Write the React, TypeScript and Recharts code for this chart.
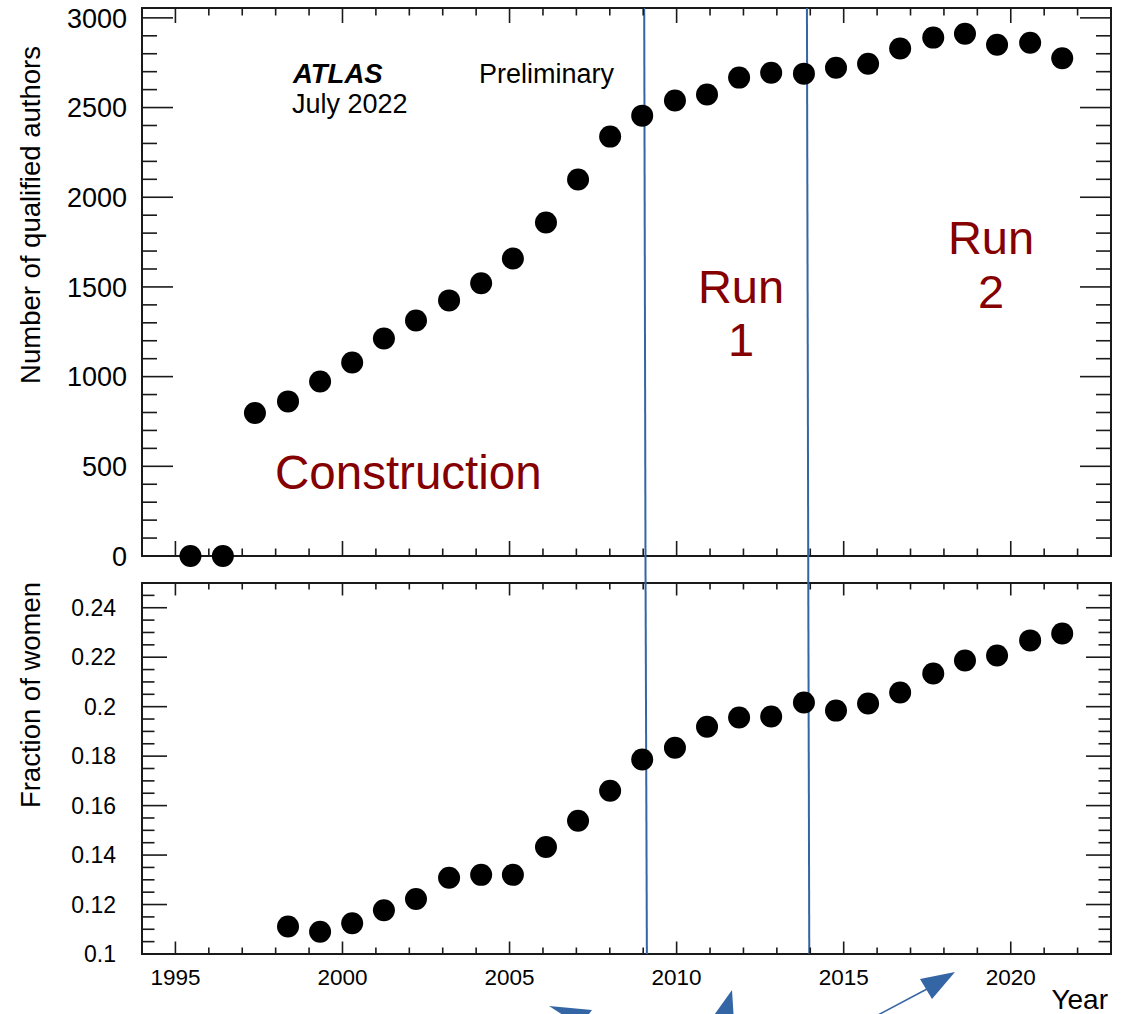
import { ScatterChart, Scatter, XAxis, YAxis, ReferenceLine, ReferenceArea } from "recharts";

// ATLAS qualified authors
const years = [
  1995.45, 1996.42, 1997.38, 1998.37, 1999.33, 2000.29, 2001.24, 2002.2, 2003.19, 2004.15,
  2005.1, 2006.09, 2007.05, 2008.01, 2008.97, 2009.95, 2010.91, 2011.87, 2012.83, 2013.81,
  2014.77, 2015.73, 2016.69, 2017.68, 2018.63, 2019.59, 2020.58, 2021.54,
];
const authors = [
  0, 0, 797, 862, 973, 1079, 1213, 1313, 1425, 1520,
  1658, 1859, 2099, 2338, 2455, 2539, 2573, 2667, 2694, 2689,
  2722, 2744, 2829, 2890, 2911, 2850, 2861, 2775,
];
const womenYears = [
  1998.37, 1999.33, 2000.29, 2001.24, 2002.2, 2003.19, 2004.15, 2005.1, 2006.09, 2007.05,
  2008.01, 2008.97, 2009.95, 2010.91, 2011.87, 2012.83, 2013.81, 2014.77, 2015.73, 2016.69,
  2017.68, 2018.63, 2019.59, 2020.58, 2021.54,
];
const womenFraction = [
  0.1111, 0.109, 0.1124, 0.1177, 0.1222, 0.1308, 0.132, 0.132, 0.1433, 0.1539,
  0.166, 0.1786, 0.1834, 0.1919, 0.1956, 0.196, 0.2017, 0.1984, 0.2013, 0.2057,
  0.2134, 0.2187, 0.2207, 0.2268, 0.2296,
];

const yearTicks = [
  1994, 1995, 1996, 1997, 1998, 1999, 2000, 2001, 2002, 2003, 2004, 2005, 2006, 2007, 2008,
  2009, 2010, 2011, 2012, 2013, 2014, 2015, 2016, 2017, 2018, 2019, 2020, 2021, 2022, 2023,
];
const authorTicks = [
  0, 100, 200, 300, 400, 500, 600, 700, 800, 900, 1000, 1100, 1200, 1300, 1400, 1500,
  1600, 1700, 1800, 1900, 2000, 2100, 2200, 2300, 2400, 2500, 2600, 2700, 2800, 2900, 3000,
];
const fractionTicks = [
  0.1, 0.105, 0.11, 0.115, 0.12, 0.125, 0.13, 0.135, 0.14, 0.145, 0.15, 0.155, 0.16, 0.165,
  0.17, 0.175, 0.18, 0.185, 0.19, 0.195, 0.2, 0.205, 0.21, 0.215, 0.22, 0.225, 0.23, 0.235,
  0.24, 0.245, 0.25,
];

// run boundaries (slightly tilted in the original: top, middle, bottom)
const run1 = [2009.03, 2009.07, 2009.11];
const run2 = [2013.9, 2013.94, 2013.97];

const topData = years.map((y, i) => ({ year: y, value: authors[i] }));
const bottomData = womenYears.map((y, i) => ({ year: y, value: womenFraction[i] }));

const FONT = "'Liberation Sans', Arial, Helvetica, sans-serif";
const INK = "#1a1a1a";
const RED = "#850000";
const BLUE = "#3465a4";

const W = 1125;
const LEFT = 142;
const RIGHT = 14;
const PLOT_W = W - LEFT - RIGHT;

// axes are 1px wide/high (0 would stop them from drawing), margins take that pixel back
const H1 = 578;
const M1 = { top: 8, right: RIGHT, bottom: 21, left: LEFT - 1 };
const PLOT_H1 = H1 - 8 - 22;

const H2 = 436;
const M2 = { top: 5, right: RIGHT, bottom: 59, left: LEFT - 1 };
const PLOT_H2 = H2 - 5 - 60;

const dot = (p: any) => <circle cx={p.cx} cy={p.cy} r={11} fill="#000" />;

const xTick = (plotH: number, majorLen: number, minorLen: number, labels: boolean) => (props: any) => {
  const { x, y, payload } = props;
  const major = payload.value % 5 === 0;
  const len = major ? majorLen : minorLen;
  return (
    <g>
      <line x1={x} y1={y} x2={x} y2={y - len} stroke={INK} strokeWidth={1.6} />
      <line x1={x} y1={y - plotH} x2={x} y2={y - plotH + len} stroke={INK} strokeWidth={1.6} />
      {labels && major && payload.value > 1994 && payload.value < 2023 && (
        <text x={x} y={y + 31} textAnchor="middle" fontSize={22.5} fontFamily={FONT} fill="#000">
          {payload.value}
        </text>
      )}
    </g>
  );
};

const yTick = (
  isMajor: (v: number) => boolean,
  fmt: (v: number) => string,
  majorLen: number,
  minorLen: number,
  fontSize: number,
  labelGap: number,
) => (props: any) => {
  const { x, y, payload } = props;
  const v = payload.value;
  const major = isMajor(v);
  const len = major ? majorLen : minorLen;
  return (
    <g>
      <line x1={x} y1={y} x2={x + len} y2={y} stroke={INK} strokeWidth={1.6} />
      <line x1={x + PLOT_W} y1={y} x2={x + PLOT_W - len} y2={y} stroke={INK} strokeWidth={1.6} />
      {major && (
        <text x={x - labelGap} y={y + fontSize * 0.36} textAnchor="end" fontSize={fontSize} fontFamily={FONT} fill="#000">
          {fmt(v)}
        </text>
      )}
    </g>
  );
};

function App() {
  return (
    <div style={{ position: "absolute", left: 0, top: 0, width: W, height: 1014, background: "#fff", fontFamily: FONT }}>
      <div style={{ position: "absolute", left: 0, top: 0 }}>
        <ScatterChart width={W} height={H1} margin={M1}>
          <XAxis
            dataKey="year"
            type="number"
            domain={[1994, 2023]}
            ticks={yearTicks}
            interval={0}
            height={1}
            tickSize={0}
            tickMargin={0}
            tickLine={false}
            axisLine={false}
            tick={xTick(PLOT_H1, 15, 7.5, false)}
          />
          <YAxis
            dataKey="value"
            type="number"
            domain={[0, 3055]}
            ticks={authorTicks}
            interval={0}
            width={1}
            tickSize={0}
            tickMargin={0}
            tickLine={false}
            axisLine={false}
            tick={yTick((v) => v % 500 === 0, (v) => String(v), 31, 15, 27, 15)}
          />
          <ReferenceArea x1={1994} x2={2023} y1={0} y2={3055} fill="none" stroke={INK} strokeWidth={2} />
          <ReferenceLine
            segment={[{ x: run1[0], y: 3055 }, { x: run1[1], y: -125 }]}
            stroke={BLUE}
            strokeWidth={2}
            ifOverflow="visible"
          />
          <ReferenceLine
            segment={[{ x: run2[0], y: 3055 }, { x: run2[1], y: -125 }]}
            stroke={BLUE}
            strokeWidth={2}
            ifOverflow="visible"
          />
          <Scatter data={topData} shape={dot} isAnimationActive={false} />
        </ScatterChart>
      </div>
      <div style={{ position: "absolute", left: 0, top: H1 }}>
        <ScatterChart width={W} height={H2} margin={M2}>
          <XAxis
            dataKey="year"
            type="number"
            domain={[1994, 2023]}
            ticks={yearTicks}
            interval={0}
            height={1}
            tickSize={0}
            tickMargin={0}
            tickLine={false}
            axisLine={false}
            tick={xTick(PLOT_H2, 12.5, 6.5, true)}
          />
          <YAxis
            dataKey="value"
            type="number"
            domain={[0.1, 0.25]}
            ticks={fractionTicks}
            interval={0}
            width={1}
            tickSize={0}
            tickMargin={0}
            tickLine={false}
            axisLine={false}
            tick={yTick(
              (v) => Math.abs(v * 50 - Math.round(v * 50)) < 1e-6,
              (v) => String(Number(v.toFixed(2))),
              25,
              12.5,
              23,
              26,
            )}
          />
          <ReferenceArea x1={1994} x2={2023} y1={0.1} y2={0.25} fill="none" stroke={INK} strokeWidth={2} />
          <ReferenceLine
            segment={[{ x: run1[1], y: 0.2521 }, { x: run1[2], y: 0.1 }]}
            stroke={BLUE}
            strokeWidth={2}
            ifOverflow="visible"
          />
          <ReferenceLine
            segment={[{ x: run2[1], y: 0.2521 }, { x: run2[2], y: 0.1 }]}
            stroke={BLUE}
            strokeWidth={2}
            ifOverflow="visible"
          />
          <Scatter data={bottomData} shape={dot} isAnimationActive={false} />
        </ScatterChart>
      </div>
      <svg
        width={W}
        height={1014}
        style={{ position: "absolute", left: 0, top: 0, pointerEvents: "none" }}
        fontFamily={FONT}
      >
        <text transform="translate(40,215) rotate(-90)" textAnchor="middle" fontSize={27.5} fill="#000">
          Number of qualified authors
        </text>
        <text transform="translate(40,695) rotate(-90)" textAnchor="middle" fontSize={27.5} fill="#000">
          Fraction of women
        </text>
        <text x={1108} y={1009} textAnchor="end" fontSize={28} fill="#000">Year</text>

        <text x={293} y={83} fontSize={27.5} fontWeight="bold" fontStyle="italic" fill="#000">ATLAS</text>
        <text x={292} y={113} fontSize={27} fill="#000">July 2022</text>
        <text x={479} y={83} fontSize={27} fill="#000">Preliminary</text>

        <text x={275} y={489} fontSize={47.5} fill={RED}>Construction</text>
        <text x={741} y={303} textAnchor="middle" fontSize={47} fill={RED}>Run</text>
        <text x={741} y={356} textAnchor="middle" fontSize={47} fill={RED}>1</text>
        <text x={991} y={254} textAnchor="middle" fontSize={47} fill={RED}>Run</text>
        <text x={991} y={308} textAnchor="middle" fontSize={47} fill={RED}>2</text>

        <polygon points="549,1006 592,1010 580,1026" fill={BLUE} />
        <polygon points="732,990 712,1018 734,1022" fill={BLUE} />
        <polygon points="955,972 920,979 932,999" fill={BLUE} />
        <line x1={927} y1={989} x2={878} y2={1015} stroke={BLUE} strokeWidth={1.5} />
      </svg>
    </div>
  );
}

export default App;
